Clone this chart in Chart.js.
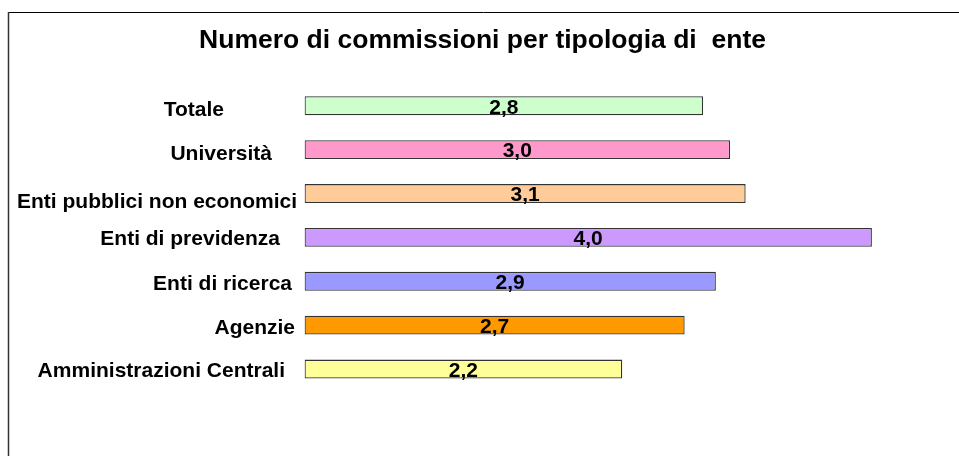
<!DOCTYPE html>
<html>
<head>
<meta charset="utf-8">
<script src="https://cdn.jsdelivr.net/npm/chart.js@4.4.1/dist/chart.umd.min.js"></script>
<style>
  html, body { margin: 0; padding: 0; background: #fff; }
  #wrap { width: 959px; height: 456px; }
</style>
</head>
<body>
<div id="wrap"><canvas id="myChart" width="959" height="456"></canvas></div>
<script>
// data
const categories = ['Totale', 'Università', 'Enti pubblici non economici', 'Enti di previdenza',
    'Enti di ricerca', 'Agenzie', 'Amministrazioni Centrali']
const commissioni = [2.81, 3.0, 3.11, 4.0, 2.9, 2.68, 2.24]
const barColors = ['#CCFFCC', '#FF99CC', '#FFCC99', '#CC99FF', '#9999FF', '#FF9900', '#FFFF99']
const chartTitle = 'Numero di commissioni per tipologia di  ente'

// layout of the category labels (right edge, vertical nudge) - they are not aligned in the original
const labelRight = [224, 272, 297, 280, 292, 295, 285]
const labelShift = [4, 5, 9, 2, 3, 3, 2]

const labelFont = 'bold 21px "Liberation Sans", Arial, sans-serif'

// frame around the chart (only top and left edges are visible)
const framePlugin = {
    id: 'frame',
    beforeDraw(chart) {
        const ctx = chart.ctx
        ctx.save()
        ctx.fillStyle = '#fff'
        ctx.fillRect(0, 0, chart.width, chart.height)
        ctx.lineWidth = 1
        ctx.strokeStyle = '#000'
        ctx.beginPath()
        ctx.moveTo(8, 12.5)
        ctx.lineTo(chart.width, 12.5)
        ctx.stroke()
        ctx.strokeStyle = '#333'
        ctx.lineWidth = 1.5
        ctx.beginPath()
        ctx.moveTo(8.5, 12)
        ctx.lineTo(8.5, chart.height)
        ctx.stroke()
        ctx.restore()
    }
}

// category names on the left + value inside each bar
const labelsPlugin = {
    id: 'barLabels',
    afterDatasetsDraw(chart) {
        const ctx = chart.ctx
        const yScale = chart.scales.y
        const meta = chart.getDatasetMeta(0)
        ctx.save()
        ctx.font = labelFont
        ctx.fillStyle = '#000'
        ctx.textBaseline = 'middle'
        categories.forEach((name, i) => {
            const y = yScale.getPixelForValue(i)
            ctx.textAlign = 'right'
            ctx.fillText(name, labelRight[i], y + labelShift[i])
            const bar = meta.data[i]
            ctx.textAlign = 'center'
            ctx.fillText(commissioni[i].toFixed(1).replace('.', ','), (bar.base + bar.x) / 2, bar.y + 2)
        })
        ctx.restore()
    }
}

const config = {
    type: 'bar',
    data: {
        labels: categories,
        datasets: [{
            data: commissioni,
            backgroundColor: barColors,
            borderColor: '#333',
            borderWidth: 1.3,
            borderSkipped: false,
            categoryPercentage: 1,
            barPercentage: 0.43
        }]
    },
    plugins: [framePlugin, labelsPlugin],
    options: {
        indexAxis: 'y',
        responsive: false,
        animation: false,
        layout: {
            padding: { left: 8, right: 2, top: 0, bottom: 65 }
        },
        plugins: {
            legend: { display: false },
            tooltip: { enabled: false },
            title: {
                display: true,
                text: chartTitle,
                color: '#000',
                font: { family: '"Liberation Sans", Arial, sans-serif', size: 26.5, weight: 'bold' },
                padding: { top: 25, bottom: 27 }
            }
        },
        scales: {
            x: {
                display: false,
                min: 0,
                max: 4.6
            },
            y: {
                grid: { display: false },
                border: { display: false },
                ticks: { display: false },
                afterFit(scale) { scale.width = 296.5 }
            }
        }
    }
}

const myChart = new Chart(document.getElementById('myChart'), config)
</script>
</body>
</html>
